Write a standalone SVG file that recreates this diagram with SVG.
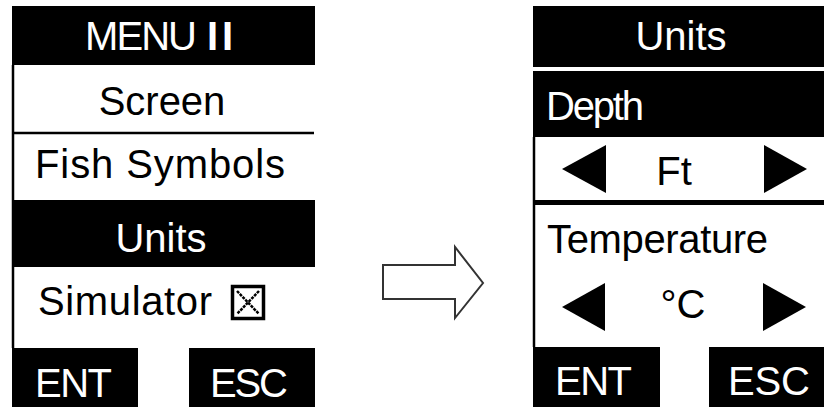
<svg xmlns="http://www.w3.org/2000/svg" width="824" height="407" viewBox="0 0 824 407">
<style>
text{font-family:"Liberation Sans",Arial,sans-serif;font-size:40px}
.w{fill:#fff}
.k{fill:#000}
.bar{fill:#000}
.edge{stroke:#000;stroke-width:2.5}
.tri{fill:#000}
.x{stroke:#000;stroke-width:2.5;stroke-dasharray:3 1}
</style>
<rect x="0" y="0" width="824" height="407" fill="#fff"/>
<g id="menu2">
  <rect class="bar" x="12" y="6" width="303" height="59"/>
  <text class="w" x="85" y="50" textLength="112">MENU</text>
  <text class="w" x="207" y="50" font-weight="bold" letter-spacing="4">II</text>
  <line class="edge" x1="13" y1="65" x2="13" y2="348"/>
  <line class="edge" x1="12" y1="133" x2="314" y2="133"/>
  <text class="k" x="162" y="115" text-anchor="middle">Screen</text>
  <text class="k" x="35" y="178" textLength="250">Fish Symbols</text>
  <rect class="bar" x="12" y="200" width="303" height="67"/>
  <text class="w" x="161" y="252" text-anchor="middle">Units</text>
  <text class="k" x="38" y="315" textLength="174">Simulator</text>
  <g id="checkbox">
    <rect x="232.5" y="286.5" width="31" height="32" fill="none" stroke="#000" stroke-width="3.5"/>
    <line class="x" x1="237" y1="291" x2="259" y2="314"/>
    <line class="x" x1="259" y1="291" x2="237" y2="314"/>
  </g>
  <rect class="bar" x="12" y="348" width="126" height="59"/>
  <text class="w" x="35" y="397" textLength="77">ENT</text>
  <rect class="bar" x="189" y="348" width="126" height="59"/>
  <text class="w" x="210" y="397" textLength="78">ESC</text>
</g>
<g id="connectors">
  <polygon points="383,265 455,265 455,247 483,283 455,318 455,299 383,299" fill="#fff" stroke="#333" stroke-width="2"/>
</g>
<g id="units">
  <rect class="bar" x="533" y="6" width="291" height="61"/>
  <text class="w" x="681" y="50" text-anchor="middle">Units</text>
  <rect class="bar" x="533" y="71" width="291" height="66"/>
  <text class="w" x="546" y="120" textLength="98">Depth</text>
  <line class="edge" x1="534" y1="137" x2="534" y2="347"/>
  <polygon class="tri" points="562,169 606,145 606,193"/>
  <text class="k" x="674" y="185" text-anchor="middle">Ft</text>
  <polygon class="tri" points="764,145 764,193 807,169"/>
  <rect class="bar" x="533" y="200" width="291" height="5"/>
  <text class="k" x="547" y="253" textLength="221">Temperature</text>
  <polygon class="tri" points="562,307 605,283 605,331"/>
  <text class="k" x="683" y="318" text-anchor="middle">°C</text>
  <polygon class="tri" points="763,283 763,331 806,307"/>
  <rect class="bar" x="533" y="347" width="127" height="60"/>
  <text class="w" x="555" y="395" textLength="77">ENT</text>
  <rect class="bar" x="709" y="347" width="115" height="60"/>
  <text class="w" x="728" y="395" textLength="82">ESC</text>
</g>
</svg>
